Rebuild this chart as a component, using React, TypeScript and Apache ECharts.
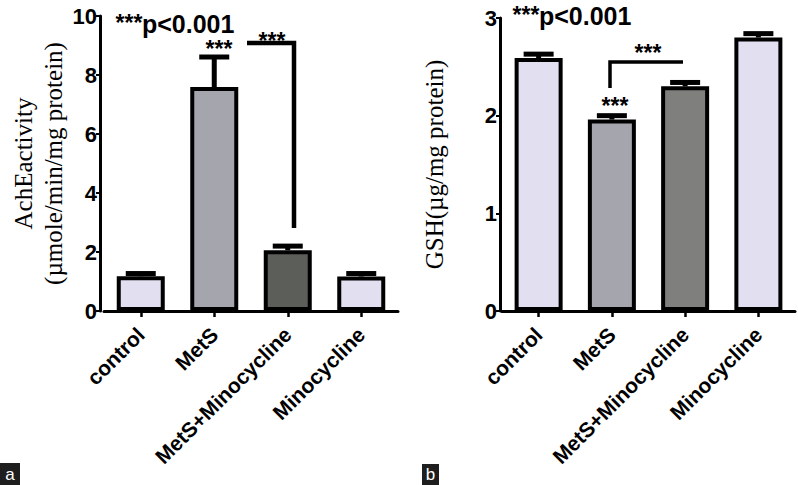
import React, { useEffect, useRef } from "react";
import * as echarts from "echarts";

const categories = ["control", "MetS", "MetS+Minocycline", "Minocycline"];
const acheMean = [1.18, 7.59, 2.06, 1.17];
const acheError = [0.09, 1.02, 0.14, 0.1];
const gshMean = [2.59, 1.96, 2.3, 2.8];
const gshError = [0.04, 0.04, 0.04, 0.04];
const acheTickStep = 2;
const acheMax = 10;
const gshTickStep = 1;
const gshMax = 3;
const colorsA = ["#e1dff0", "#a4a5ad", "#5c5e5a", "#e1dff0"];
const colorsB = ["#e1dff0", "#a4a5ad", "#7f807e", "#e1dff0"];

const SANS = "'Liberation Sans', Arial, Helvetica, sans-serif";
const SERIF = "'Liberation Serif', 'Times New Roman', serif";

function errorSeries(idx: number, mean: number[], err: number[]) {
  return {
    type: "custom",
    xAxisIndex: idx,
    yAxisIndex: idx,
    z: 5,
    data: mean.map((m, i) => [i, m, m + err[i]]),
    encode: { x: 0, y: [1, 2] },
    renderItem: (_p: any, api: any) => {
      const x = api.value(0);
      const p0 = api.coord([x, api.value(1)]);
      const p1 = api.coord([x, api.value(2)]);
      return {
        type: "group",
        children: [
          {
            type: "line",
            shape: { x1: p0[0], y1: p0[1], x2: p1[0], y2: p1[1] },
            style: { stroke: "#000", lineWidth: 5 },
          },
          {
            type: "line",
            shape: { x1: p1[0] - 15, y1: p1[1], x2: p1[0] + 15, y2: p1[1] },
            style: { stroke: "#000", lineWidth: 5 },
          },
        ],
      };
    },
  };
}

function xAxisCfg(idx: number) {
  return {
    gridIndex: idx,
    type: "category",
    data: categories,
    axisLine: { show: true, lineStyle: { color: "#000", width: 3 } },
    axisTick: { show: true, alignWithLabel: true, length: 6, lineStyle: { color: "#000", width: 2.5 } },
    axisLabel: {
      rotate: 45,
      interval: 0,
      color: "#000",
      fontFamily: SANS,
      fontWeight: "bold",
      fontSize: 21,
      margin: 20,
    },
    splitLine: { show: false },
  };
}

function yAxisCfg(idx: number, max: number, step: number, offset: number, name: string, gap: number) {
  return {
    gridIndex: idx,
    type: "value",
    min: 0,
    max,
    interval: step,
    offset,
    axisLine: { show: true, lineStyle: { color: "#000", width: 3 } },
    axisTick: { show: true, length: 4, lineStyle: { color: "#000", width: 2 } },
    axisLabel: { color: "#000", fontFamily: SANS, fontWeight: "bold", fontSize: 22, margin: 3 },
    splitLine: { show: false },
    name,
    nameLocation: "middle",
    nameRotate: 90,
    nameGap: gap,
    nameTextStyle: { fontFamily: SERIF, fontSize: 25, color: "#000", lineHeight: 30 },
  };
}

function barSeries(idx: number, mean: number[], colors: string[]) {
  return {
    type: "bar",
    xAxisIndex: idx,
    yAxisIndex: idx,
    barWidth: 48,
    z: 3,
    data: mean.map((v, i) => ({ value: v, itemStyle: { color: colors[i] } })),
    itemStyle: { borderColor: "#000", borderWidth: 4 },
  };
}

function star(x: number, y: number) {
  return {
    type: "text",
    x,
    y,
    style: { text: "***", font: `bold 23px ${SANS}`, fill: "#000", align: "center", verticalAlign: "middle" },
  };
}

function pText(x: number, y: number) {
  return {
    type: "text",
    x,
    y,
    style: { text: "p<0.001", font: `bold 25px ${SANS}`, fill: "#000", align: "left", verticalAlign: "middle" },
  };
}

function panelTag(x: number, y: number, w: number, h: number, t: string) {
  return [
    { type: "rect", shape: { x, y, width: w, height: h }, style: { fill: "#1e1e1e" } },
    {
      type: "text",
      x: x + w / 2,
      y: y + h / 2,
      style: { text: t, font: `17px ${SANS}`, fill: "#fff", align: "center", verticalAlign: "middle" },
    },
  ];
}

export default function App() {
  const ref = useRef<HTMLDivElement>(null);
  useEffect(() => {
    if (!ref.current) return;
    const chart = echarts.init(ref.current, undefined, { renderer: "svg" });
    chart.setOption({
      animation: false,
      backgroundColor: "#fff",
      grid: [
        { left: 104, top: 16, width: 294, height: 295 },
        { left: 502, top: 18, width: 293, height: 293 },
      ],
      xAxis: [xAxisCfg(0), xAxisCfg(1)],
      yAxis: [
        yAxisCfg(0, acheMax, acheTickStep, 4, "AchEactivity\n(µmole/min/mg protein)", 32),
        yAxisCfg(1, gshMax, gshTickStep, 2, "GSH(µg/mg protein)", 51),
      ],
      series: [
        barSeries(0, acheMean, colorsA),
        errorSeries(0, acheMean, acheError),
        barSeries(1, gshMean, colorsB),
        errorSeries(1, gshMean, gshError),
      ],
      graphic: [
        star(129, 23),
        pText(142, 24),
        star(219, 49),
        star(272, 41),
        {
          type: "polyline",
          shape: { points: [[247, 43], [294, 43], [294, 228]] },
          style: { stroke: "#000", lineWidth: 4.5, fill: "none" },
        },
        star(526, 15),
        pText(539, 16),
        star(648, 53),
        star(615, 106),
        {
          type: "polyline",
          shape: { points: [[610, 88], [610, 62], [683, 62]] },
          style: { stroke: "#000", lineWidth: 3.5, fill: "none" },
        },
        ...panelTag(0, 463, 20, 22, "a"),
        ...panelTag(422, 464, 17, 21, "b"),
      ],
    });
    return () => chart.dispose();
  }, []);
  return (
    <div
      ref={ref}
      style={{ position: "absolute", left: 0, top: 0, width: 798, height: 485, background: "#fff" }}
    />
  );
}
